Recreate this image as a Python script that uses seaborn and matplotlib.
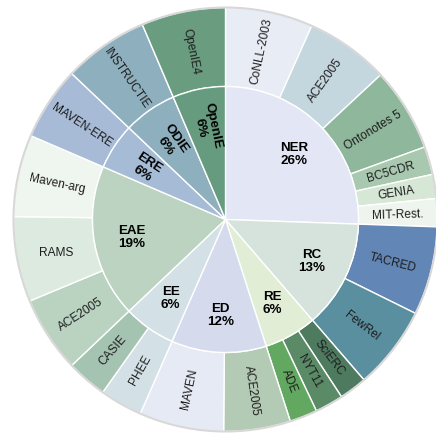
import numpy as np
import pandas as pd
import matplotlib
matplotlib.use("Agg")
import matplotlib.pyplot as plt
import seaborn as sns

sns.set_theme(style="white")
plt.rcParams["font.family"] = ["Liberation Sans", "DejaVu Sans"]

# ── data (sizes, in degrees of arc)
inner_names = ["NER", "RC", "RE", "ED", "EE", "EAE", "ERE", "ODIE", "OpenIE"]
inner_pct = [26, 13, 6, 12, 6, 19, 6, 6, 6]
inner_colors = ["#E3E7F5", "#D5E3DC", "#E2EDD6", "#D5DAEC", "#D3E0E6",
                "#BBD3C0", "#A6BBD6", "#8EB0BE", "#679B7F"]
inner_mode = ["h", "h", "h", "h", "h", "h", "r", "r", "r"]

outer_parent = (["NER"] * 6 + ["RC"] * 2 + ["RE"] * 3 + ["ED"] * 2 + ["EE"] * 2
                + ["EAE"] * 3 + ["ERE", "ODIE", "OpenIE"])
outer_names = ["CoNLL-2003", "ACE2005", "Ontonotes 5", "BC5CDR", "GENIA", "MIT-Rest.",
               "TACRED", "FewRel",
               "SciERC", "NYT11", "ADE",
               "ACE2005", "MAVEN",
               "PHEE", "CASIE",
               "ACE2005", "RAMS", "Maven-arg",
               "MAVEN-ERE", "INSTRUCTIE", "OpenIE4"]
outer_sizes = [24, 23, 23, 7.7, 6.6, 7.7,
               24.3, 22.9,
               7.6, 7.8, 7.6,
               18.3, 23.2,
               11.7, 11.1,
               20.9, 23.4, 22.5,
               20.2, 23.4, 23.1]
outer_colors = ["#E8ECF4", "#C4D6DE", "#8FB79B", "#A8C8B0", "#D6E7D6", "#EEF5EE",
                "#6286B5", "#5A8FA0",
                "#4E7A60", "#5A8A66", "#62A860",
                "#B3CBB5", "#E6EAF4",
                "#D3E1E6", "#A5C3B1",
                "#BAD3C1", "#DDEADF", "#EFF5EF",
                "#A7BAD6", "#8EB0BE", "#6A9D80"]
outer_mode = ["r"] * 16 + ["h"] + ["r"] * 4

df = pd.DataFrame({"parent": outer_parent, "name": outer_names, "size": outer_sizes})
inner_sizes = df.groupby("parent", sort=False)["size"].sum().reindex(inner_names).values

R_IN = 133 / 212


def rotation(mid, mode):
    if mode == "h":
        return 0
    r = mid
    while r > 90:
        r -= 180
    while r < -90:
        r += 180
    return r


def label_ring(ax, sizes, labels, modes, radius, **kw):
    edges = 90 - np.concatenate([[0], np.cumsum(sizes)])
    mids = (edges[:-1] + edges[1:]) / 2
    for m, lab, mode in zip(mids, labels, modes):
        t = np.deg2rad(m)
        ax.text(radius * np.cos(t), radius * np.sin(t), lab,
                rotation=rotation(m, mode), rotation_mode="anchor",
                ha="center", va="center", **kw)


fig = plt.figure(figsize=(4.36, 4.35), dpi=100)
ax = fig.add_axes([0, 0, 1, 1])

ax.pie(outer_sizes, radius=1.0, colors=outer_colors, startangle=90, counterclock=False,
       wedgeprops=dict(width=1 - R_IN, edgecolor="white", linewidth=1))
ax.pie(inner_sizes, radius=R_IN, colors=inner_colors, startangle=90, counterclock=False,
       wedgeprops=dict(edgecolor="white", linewidth=1))
ax.add_patch(plt.Circle((0, 0), 1.0, fill=False, edgecolor="#D8D8D8", linewidth=1.5))

label_ring(ax, inner_sizes, [f"{n}\n{p}%" for n, p in zip(inner_names, inner_pct)],
           inner_mode, 0.45, fontsize=9.6, fontweight="bold", color="black", linespacing=1.1)
label_ring(ax, outer_sizes, outer_names, outer_mode, (1 + R_IN) / 2,
           fontsize=8.6, color="#1E1E1E")

ax.set_xlim(-225.5 / 212, (436 - 225.5) / 212)
ax.set_ylim(-(435 - 220.5) / 212, 220.5 / 212)
ax.set_aspect("auto")
ax.axis("off")

fig.savefig("out.png", dpi=100)
plt.close(fig)
